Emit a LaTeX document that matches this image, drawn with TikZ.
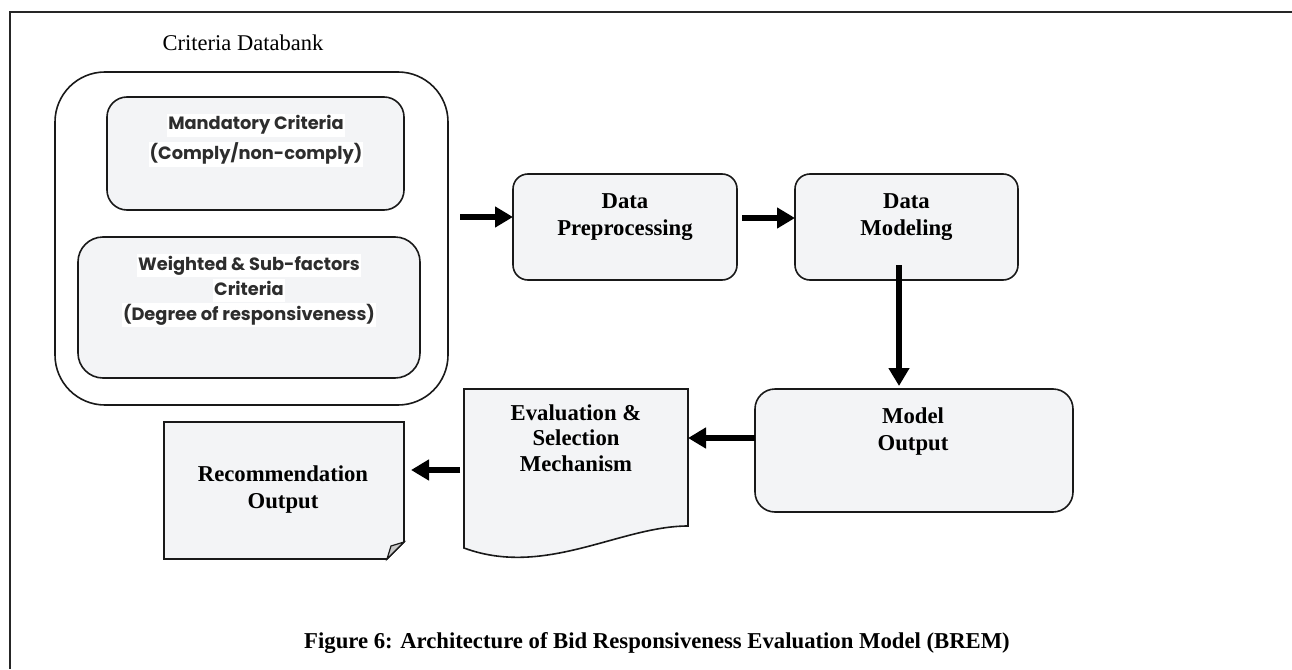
\documentclass[tikz,border=0pt]{standalone}
\usepackage{fontspec}
\setmainfont{Liberation Serif}
\newfontfamily\gothic{Poppins Bold}
\usetikzlibrary{arrows.meta}
\definecolor{boxfill}{RGB}{243,244,246}
\definecolor{edge}{RGB}{25,25,25}
\definecolor{gtext}{RGB}{45,45,45}
\definecolor{flapfill}{RGB}{200,200,200}
\newcommand{\hlw}[1]{{\setlength{\fboxsep}{1pt}\colorbox{white}{\vrule height 15pt depth 6pt width 0pt #1}}}
\begin{document}
\begin{tikzpicture}[x=1pt,y=-1pt,
  box/.style={draw=edge,line width=1.6pt,fill=boxfill},
  holder/.style={inner sep=0pt,outer sep=0pt},
  lbl/.style={font=\fontsize{22.7}{27}\selectfont\bfseries,align=center,text=black,inner sep=0pt},
  glbl/.style={font=\gothic\fontsize{17.8}{25}\selectfont,align=center,text=gtext,inner sep=0pt},
  arr/.style={-{Triangle[length=18pt,width=20pt]},line width=6.5pt,draw=black}
]
\useasboundingbox (0,0) rectangle (1292,669);
% outer frame
\draw[line width=2.5pt,draw=black!85] (1292,12) -- (10,12) -- (10,669);

\node[font=\fontsize{22.5}{26}\selectfont] (cdt) at (243,43) {Criteria Databank};

% criteria databank
\node[draw=edge,line width=1.6pt,rounded corners=50pt,minimum width=393pt,minimum height=333pt,holder] (bank) at (251.5,238.5) {};
\node[box,rounded corners=20pt,minimum width=297pt,minimum height=113pt,holder] (mand) at (255.5,153.5) {};
\node[box,rounded corners=25pt,minimum width=342pt,minimum height=141pt,holder] (wght) at (249,307.5) {};
\node[glbl,font=\gothic\fontsize{17.8}{30}\selectfont] (tmand) at (256,140) {\hlw{Mandatory Criteria}\\\hlw{(Comply/non-comply)}};
\node[glbl] (twght) at (249,290.5) {\hlw{Weighted \& Sub-factors}\\\hlw{Criteria}\\\hlw{(Degree of responsiveness)}};

% process boxes
\node[box,rounded corners=15pt,minimum width=224pt,minimum height=106pt,holder] (pre) at (625,227) {};
\node[box,rounded corners=15pt,minimum width=223pt,minimum height=106pt,holder] (mod) at (906.5,227) {};
\node[box,rounded corners=20pt,minimum width=318pt,minimum height=123pt,holder] (out) at (914,450.5) {};
\node[lbl] (tpre) at (625,217) {Data\\Preprocessing};
\node[lbl] (tmod) at (906.5,217) {Data\\Modeling};
\node[lbl] (tout) at (913,432) {Model\\Output};

% evaluation document
\node[holder,minimum width=224pt,minimum height=137pt] (eval) at (576,457.5) {};
\draw[box] (464,389) -- (688,389) -- (688,526) .. controls (620,526) and (545,578) .. (464,548) -- cycle;
\node[lbl,font=\fontsize{22.7}{25.5}\selectfont\bfseries] (teval) at (576,438) {Evaluation \&\\Selection\\Mechanism};

% recommendation (folded corner)
\node[holder,minimum width=240pt,minimum height=137pt] (rec) at (284,490.5) {};
\draw[box] (164,422) -- (404,422) -- (404,542) -- (387,559) -- (164,559) -- cycle;
\draw[draw=edge,line width=1.2pt,fill=flapfill] (404,542) .. controls (398,544) .. (391,546) .. controls (389,552) .. (387,559) -- cycle;
\node[lbl] (trec) at (283,490) {Recommendation\\Output};

% arrows
\coordinate (a1) at (460,217);
\draw[arr] (a1) -- (a1 -| pre.west);
\coordinate (a2) at (742,218);
\draw[arr] (a2) -- (a2 -| mod.west);
\coordinate (a3) at (899,265);
\draw[arr,shorten >=3pt] (a3) -- (a3 |- out.north);
\coordinate (a4) at (755,438);
\draw[arr] (a4) -- (a4 -| eval.east);
\coordinate (a5) at (460,470);
\draw[arr,shorten >=7pt] (a5) -- (a5 -| rec.east);

% caption
\node[font=\fontsize{22.7}{26}\selectfont\bfseries] (cap) at (657,643) {Figure 6: Architecture of Bid Responsiveness Evaluation Model (BREM)};
\end{tikzpicture}
\end{document}
